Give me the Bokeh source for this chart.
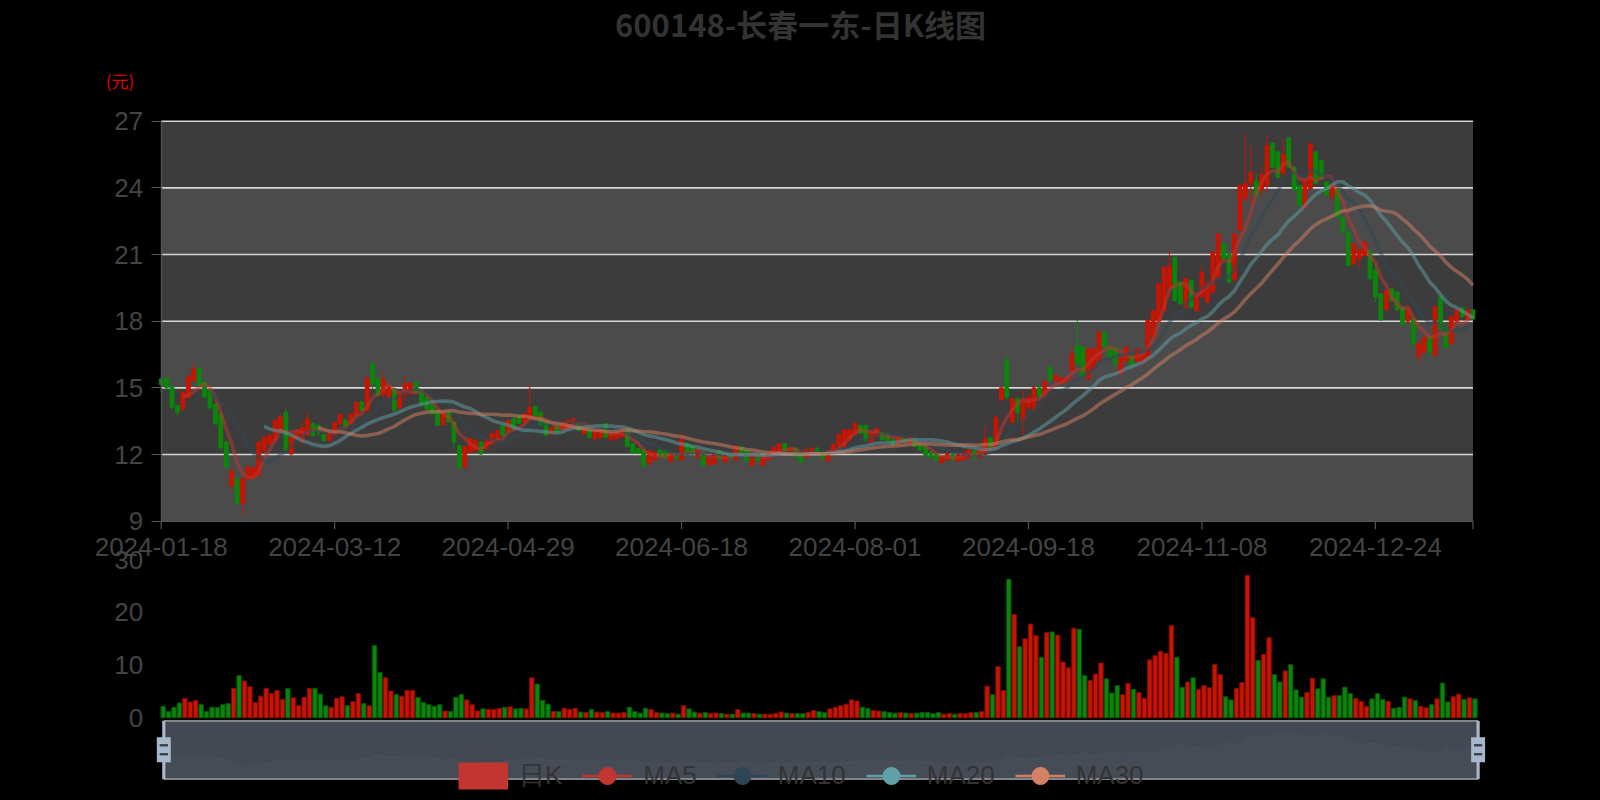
import numpy as np
import pandas as pd
from bokeh.plotting import figure
from bokeh.models import (Range1d, FixedTicker, Legend, LegendItem, LinearAxis,
                          GlobalInlineStyleSheet)
from bokeh.embed import file_html
from bokeh.resources import INLINE
from bokeh.core.properties import value

# ---------------- data ----------------
title_text = "600148-长春一东-日K线图"
unit_text = "(元)"
tick_index = [0, 32, 64, 96, 128, 160, 192, 224]
tick_labels = ["2024-01-18", "2024-03-12", "2024-04-29", "2024-06-18",
               "2024-08-01", "2024-09-18", "2024-11-08", "2024-12-24"]
price_ticks = [9, 12, 15, 18, 21, 24, 27]
volume_ticks = [0, 10, 20, 30]
legend_names = ["日K", "MA5", "MA10", "MA20", "MA30"]
ma_days = [5, 10, 20, 30]

opens = [15.40,15.44,15.06,14.20,14.06,14.58,15.33,15.88,15.25,14.88,
         14.28,13.83,12.56,10.60,10.90,9.80,10.90,10.95,11.06,12.18,
         12.48,12.63,13.05,13.90,12.03,12.71,12.60,12.90,13.38,13.30,
         12.89,12.63,12.89,13.38,13.55,13.41,13.76,14.36,13.98,16.10,
         15.41,14.70,14.58,14.96,14.10,14.70,14.76,15.26,14.91,14.58,
         14.25,13.98,13.35,13.90,13.46,12.41,11.43,12.11,12.18,12.56,
         12.26,12.48,12.71,13.31,13.08,13.61,13.76,13.46,13.68,14.16,
         13.90,13.46,12.93,13.31,13.16,13.16,13.46,13.41,12.93,13.16,
         12.71,12.75,13.38,12.66,12.71,12.81,13.11,12.48,12.26,12.21,
         11.58,11.76,12.21,12.15,11.69,12.00,11.76,12.51,12.41,11.88,
         12.11,11.55,11.58,12.18,11.66,12.06,11.76,12.33,12.21,11.51,
         12.06,11.51,11.76,12.06,12.06,12.48,12.06,12.29,12.00,11.88,
         12.06,12.29,12.11,11.70,12.15,12.41,12.33,12.66,12.90,13.31,
         13.31,12.56,12.81,13.00,12.90,12.66,12.45,12.75,12.51,12.75,
         12.48,12.41,12.11,12.03,11.65,11.76,12.00,11.70,11.76,11.85,
         12.18,11.88,12.00,12.75,12.29,14.46,16.23,13.46,14.50,13.50,
         14.13,14.00,15.00,14.60,15.93,15.33,15.20,15.30,15.78,16.90,
         16.86,15.41,15.86,16.23,17.51,16.83,16.80,15.63,16.20,16.46,
         16.20,16.20,16.35,17.28,18.00,18.48,19.50,20.88,19.76,18.63,
         19.83,18.48,19.10,18.86,19.31,19.98,21.48,21.03,19.86,22.08,
         23.50,24.20,24.30,23.90,24.11,26.01,25.61,24.63,26.25,24.93,
         24.11,23.10,23.96,25.61,25.23,24.26,23.60,23.96,22.68,22.01,
         20.58,20.80,20.96,21.18,20.30,19.23,18.51,19.46,19.31,18.63,
         18.00,18.10,16.40,16.61,17.31,16.46,19.08,17.70,17.00,18.00,
         18.60,18.10,18.50]

closes = [15.15,15.00,14.13,13.90,14.80,15.50,15.85,15.10,14.58,14.10,
          13.38,12.33,11.43,11.25,9.80,10.90,11.45,11.40,12.56,12.78,
          12.86,13.53,13.71,12.20,12.78,13.08,13.20,13.60,12.86,13.00,
          12.63,12.96,13.43,13.80,13.25,13.83,14.36,13.98,15.45,15.20,
          14.66,15.40,15.06,13.98,14.76,15.20,15.20,14.81,14.28,14.01,
          13.83,13.31,13.86,13.46,12.56,11.40,12.36,12.71,12.63,12.03,
          12.63,12.93,13.08,12.86,13.53,13.16,13.41,13.83,14.13,13.68,
          13.31,12.86,13.20,13.01,13.46,13.53,13.61,13.08,13.20,12.78,
          13.05,13.08,12.78,12.93,12.96,13.11,12.36,12.06,12.06,11.50,
          12.18,12.11,11.91,11.85,12.03,11.81,12.66,12.00,12.03,12.21,
          11.51,11.91,12.06,11.81,12.00,11.85,12.36,12.06,11.70,12.00,
          11.73,11.91,12.06,12.33,12.48,12.15,12.29,11.91,11.66,12.21,
          12.29,12.06,11.81,12.18,12.45,12.90,13.11,13.11,13.41,12.96,
          12.63,13.00,13.16,12.66,12.63,12.45,12.78,12.56,12.78,12.36,
          12.21,11.96,11.88,11.73,11.88,12.03,11.76,12.00,12.06,12.21,
          11.81,12.21,12.71,12.30,13.68,15.00,14.58,14.51,13.90,14.40,
          14.58,15.00,14.60,15.30,15.33,15.56,15.45,15.45,16.53,16.10,
          15.56,16.76,16.76,17.51,16.83,16.38,16.10,16.38,16.83,16.01,
          16.76,16.50,18.03,18.48,19.68,20.43,20.50,18.93,18.78,19.91,
          18.63,19.31,20.20,19.71,21.11,21.93,20.81,19.76,21.93,24.11,
          24.20,24.70,23.66,24.60,25.91,24.93,24.48,25.50,24.93,23.91,
          23.21,24.33,25.98,24.21,24.41,23.66,24.10,22.68,22.01,20.51,
          21.48,21.20,21.56,19.91,19.10,18.06,19.38,18.93,18.51,17.85,
          18.50,17.00,17.00,17.28,16.61,18.66,17.66,16.80,18.20,18.50,
          18.20,18.50,18.10]

highs = [15.45,15.50,15.10,14.25,14.85,15.55,16.11,15.95,15.30,14.95,
         14.30,13.90,12.60,11.40,11.00,10.95,11.50,11.45,12.60,12.85,
         12.95,13.60,13.80,14.06,12.85,13.15,13.53,13.91,13.45,13.38,
         12.95,13.00,13.48,13.85,13.61,13.88,14.40,14.42,15.50,16.16,
         15.45,15.70,15.10,15.00,14.80,15.55,15.25,15.30,14.95,14.62,
         14.30,14.02,13.90,13.95,13.50,12.45,12.40,12.75,12.68,12.60,
         12.68,12.98,13.12,13.35,13.58,13.65,13.80,13.88,15.11,14.20,
         13.95,13.50,13.25,13.35,13.50,13.58,13.66,13.45,13.25,13.20,
         13.10,13.12,13.42,12.97,13.00,13.15,13.15,12.52,12.30,12.25,
         12.22,12.15,12.25,12.19,12.07,12.04,13.00,12.55,12.45,12.25,
         12.15,11.95,12.10,12.22,12.04,12.10,12.40,12.37,12.25,12.04,
         12.10,11.95,12.10,12.37,12.52,12.52,12.33,12.33,12.04,12.25,
         12.33,12.33,12.15,12.22,12.49,12.95,13.15,13.15,13.45,13.35,
         13.35,13.04,13.20,13.04,12.94,12.70,12.82,12.79,12.82,12.79,
         12.52,12.45,12.15,12.07,11.92,12.07,12.04,12.04,12.10,12.25,
         12.22,12.25,13.31,12.80,13.72,15.06,16.50,14.55,14.61,14.88,
         14.70,15.06,15.20,15.40,16.00,15.60,15.50,15.50,16.86,18.06,
         16.90,16.80,16.80,17.55,17.55,16.88,16.83,16.42,16.88,16.50,
         16.80,16.68,18.08,18.52,19.72,20.47,21.21,20.92,19.80,19.95,
         19.87,19.35,20.51,19.75,21.15,21.97,21.52,21.07,21.97,24.15,
         26.46,25.91,24.63,24.96,26.36,26.05,25.65,26.21,26.29,24.97,
         24.15,24.37,26.02,25.65,25.27,24.30,24.18,24.00,22.72,22.05,
         21.52,21.33,21.60,21.22,20.58,19.27,19.42,19.50,19.35,18.67,
         18.78,18.18,17.13,17.32,17.35,18.70,19.12,17.74,18.25,18.55,
         18.65,18.55,18.55]

lows = [14.80,14.95,14.05,13.75,13.95,14.50,15.25,15.05,14.55,14.05,
        13.35,12.20,11.30,10.30,9.75,9.26,10.85,10.90,11.00,12.10,
        12.40,12.55,13.00,12.10,11.95,12.65,12.48,12.78,12.80,12.78,
        12.58,12.58,12.85,13.33,13.20,13.36,13.70,13.93,13.92,14.90,
        14.60,14.51,14.50,13.95,14.05,14.43,14.70,14.76,14.25,13.98,
        13.80,13.28,13.30,13.42,12.26,11.35,11.38,12.05,12.12,11.98,
        12.20,12.42,12.65,12.82,13.02,13.12,13.37,13.40,13.62,13.63,
        13.27,12.82,12.88,12.97,13.10,13.10,13.42,13.03,12.88,12.74,
        12.66,12.70,12.74,12.62,12.66,12.76,12.32,12.02,12.02,11.36,
        11.53,11.72,11.87,11.81,11.65,11.77,11.72,11.96,11.99,11.84,
        11.47,11.51,11.54,11.77,11.62,11.81,11.72,12.02,11.66,11.47,
        11.69,11.47,11.72,12.02,12.02,12.11,12.02,11.87,11.62,11.84,
        12.02,12.02,11.77,11.66,12.11,12.37,12.29,12.62,12.86,12.92,
        12.59,12.52,12.77,12.62,12.59,12.41,12.41,12.52,12.47,12.32,
        12.17,11.92,11.84,11.69,11.55,11.72,11.72,11.66,11.72,11.81,
        11.77,11.84,11.96,12.26,12.25,14.40,14.46,13.40,13.46,12.86,
        14.00,13.98,14.50,14.55,15.30,15.28,15.15,15.25,15.33,16.00,
        15.50,15.36,15.80,16.18,16.78,16.33,15.86,15.58,16.15,15.96,
        16.15,16.01,16.30,17.23,17.95,18.43,19.08,18.88,18.73,18.58,
        18.58,18.43,19.08,18.81,19.26,19.93,20.76,19.71,19.81,22.03,
        23.43,23.28,23.62,23.66,23.81,24.88,24.43,24.60,24.88,23.86,
        23.16,23.05,23.91,24.16,24.36,23.61,23.28,22.63,21.96,20.46,
        20.53,20.36,20.91,19.86,18.86,18.01,18.46,18.88,18.46,17.80,
        17.85,16.80,16.11,16.56,16.35,16.41,17.61,16.75,16.95,17.95,
        18.15,18.05,18.05]

volumes = [2.2,1.2,2.0,2.8,3.7,3.0,3.3,2.5,1.2,2.0,
           2.0,2.5,2.7,5.6,8.0,7.0,5.9,2.9,4.1,5.6,
           4.6,5.2,3.5,5.6,3.8,2.3,3.9,5.6,5.6,4.5,
           2.3,2.0,3.7,4.0,2.3,3.1,4.6,2.7,2.3,13.7,
           8.6,7.6,5.1,4.4,4.1,5.2,5.2,3.9,2.9,2.5,
           2.2,2.5,1.3,1.2,3.9,4.4,3.4,2.5,1.3,1.7,
           1.6,1.6,1.8,2.0,2.1,1.7,1.8,1.7,7.6,6.4,
           3.3,2.6,1.2,1.2,1.8,1.6,1.8,1.1,1.0,1.6,
           1.1,1.0,1.2,0.9,0.9,1.0,2.0,1.2,0.9,1.8,
           1.6,1.0,0.9,0.8,0.9,0.7,2.3,1.7,1.1,0.9,
           1.0,0.8,0.9,0.8,0.7,0.7,1.6,0.9,0.9,0.8,
           0.7,0.7,0.7,0.8,1.1,0.9,0.8,0.8,0.8,1.0,
           1.4,1.2,1.0,1.7,2.0,2.3,2.6,3.4,3.2,2.0,
           1.8,1.4,1.3,1.2,1.0,0.9,1.0,0.9,0.8,0.9,
           1.0,1.0,0.8,1.0,0.7,0.8,0.7,0.8,0.8,1.0,
           1.0,1.2,6.0,4.4,9.7,5.2,26.3,19.6,13.5,15.0,
           17.8,15.6,11.5,16.2,16.3,15.7,10.6,9.5,17.0,16.8,
           8.0,7.1,8.3,10.4,7.4,4.7,6.1,4.4,6.5,5.4,
           4.8,3.7,11.0,11.8,12.6,12.2,17.5,11.5,5.8,6.8,
           7.6,5.4,6.1,5.7,10.1,8.2,4.0,3.4,5.6,6.7,
           27.0,19.0,10.9,12.0,15.2,8.2,6.8,8.9,10.1,5.3,
           3.9,4.8,7.5,5.5,7.4,3.9,4.2,4.2,5.8,4.6,
           3.7,3.1,2.2,3.6,4.6,3.5,3.1,1.8,2.0,3.9,
           3.6,3.3,2.2,1.9,2.5,3.6,6.6,3.0,4.0,4.5,
           3.5,3.8,3.6]

# ---------------- styling constants ----------------
UP, DOWN = "#c81400", "#0a870a"
UP_EDGE, DOWN_EDGE = "#7a0c00", "#055205"
MA_COLORS = ["#c23531", "#2f4554", "#61a0a8", "#d48265"]
BAND_LIGHT, BAND_DARK = "#4b4b4b", "#3c3c3c"
TXT = "#444444"
AXIS = "#555555"
FONT = "Liberation Sans"
CJK = "Noto Sans CJK SC"

N = len(closes)
idx = np.arange(N)
o = np.array(opens); c = np.array(closes)
hi = np.array(highs); lo = np.array(lows)
rising = c >= o
col = np.where(rising, UP, DOWN)
edge = np.where(rising, UP_EDGE, DOWN_EDGE)

# ---------------- page geometry (pixels) ----------------
W, H = 1600, 800
FRAME_L = 94                       # left border holds the two axis panels
X0_PX, XN_PX = 160.7, 1472.5       # first / last trading day
Y27, Y9 = 120.7, 520.7             # price grid top / bottom
VOL0, VOL30 = 717.3, 559.2         # volume axis 0 / 30
BAR_SHIFT = 2.0
KX = (XN_PX - X0_PX) / (N - 1)
KY = (Y9 - Y27) / (27 - 9)
KV = (VOL0 - VOL30) / 30.0
SL_L, SL_R, SL_T, SL_B = 163.3, 1477.6, 720.4, 778.6   # zoom slider box

x_rng = Range1d(-(X0_PX - FRAME_L) / KX, (W - X0_PX) / KX)
y_rng = Range1d(9 - (H - Y9) / KY, 27 + Y27 / KY)

F = figure(width=W, height=H, x_range=x_rng, y_range=y_rng,
           x_axis_location=None,
           output_backend="svg", toolbar_location=None,
           min_border_left=FRAME_L, min_border_right=0,
           min_border_top=0, min_border_bottom=0,
           background_fill_color="black", border_fill_color="black",
           outline_line_color=None)
F.grid.visible = False

F.extra_x_ranges = {
    "px": Range1d(FRAME_L, W),
    "vx": Range1d(-(X0_PX + BAR_SHIFT - FRAME_L) / KX, (W - X0_PX - BAR_SHIFT) / KX),
}
F.extra_y_ranges = {
    "py": Range1d(H, 0),
    "vol": Range1d(-(H - VOL0) / KV, 30 + VOL30 / KV),
}
ks = (SL_R - SL_L) / (N - 1)
dmin, dmax = min(opens), max(opens)
mrg = 0.3 * (dmax - dmin)
lo_v, hi_v = dmin - mrg, dmax + mrg
us = (SL_B - SL_T) / (hi_v - lo_v)
F.extra_x_ranges["shx"] = Range1d(-(SL_L - FRAME_L) / ks, (N - 1) + (W - SL_R) / ks)
F.extra_y_ranges["shy"] = Range1d(lo_v - (H - SL_B) / us, hi_v + SL_T / us)

# ---------------- texts ----------------
F.text(x=[800], y=[22.5], text=[title_text], text_font=value(CJK),
       text_font_style="bold", text_font_size="31px", text_color="#333333",
       text_align="center", text_baseline="middle",
       x_range_name="px", y_range_name="py")
F.text(x=[119.5], y=[80], text=[unit_text], text_font=value(CJK),
       text_font_size="17px", text_color="#e00000",
       text_align="center", text_baseline="middle",
       x_range_name="px", y_range_name="py")
F.text(x=tick_index, y=[546] * len(tick_index), text=tick_labels,
       text_font=value(FONT), text_font_size="26px", text_color=TXT,
       text_align="center", text_baseline="middle", y_range_name="py")

# ---------------- price panel ----------------
band_lo = price_ticks[:-1]
band_hi = price_ticks[1:]
band_col = [BAND_LIGHT if k % 2 == 0 else BAND_DARK for k in range(len(band_lo))]
F.quad(left=0, right=N - 1, bottom=band_lo, top=band_hi, fill_color=band_col,
       line_color=None, level="image")
gl = price_ticks[1:]
F.segment(x0=[0] * len(gl), y0=gl, x1=[N - 1] * len(gl), y1=gl,
          line_color="#d6d6d6", line_width=1.6)
# category axis line + ticks under the price grid
F.segment(x0=[0], y0=[9], x1=[N - 1], y1=[9], line_color=AXIS, line_width=1.4)
xt = tick_index + [N - 1]
F.segment(x0=xt, y0=[9] * len(xt), x1=xt, y1=[9 - 8 / KY] * len(xt),
          line_color=AXIS, line_width=1.2)

ya = F.yaxis[0]
ya.fixed_location = 0
ya.ticker = FixedTicker(ticks=price_ticks)
ya.bounds = (9, 27)
ya.axis_line_color = AXIS
ya.axis_line_width = 1.4
ya.major_tick_line_color = AXIS
ya.major_tick_out = 10
ya.major_tick_in = 0
ya.minor_tick_line_color = None
ya.major_label_standoff = 8
ya.major_label_text_font = FONT
ya.major_label_text_font_size = "26px"
ya.major_label_text_color = TXT

# candles
F.segment(x0=idx, y0=hi, x1=idx, y1=lo, line_color=col, line_width=1)
F.vbar(x=idx, width=0.7, top=np.maximum(o, c), bottom=np.minimum(o, c),
       fill_color=col, line_color=col, line_width=1)

# moving averages
cs = pd.Series(closes)
for d, mc in zip(ma_days, MA_COLORS):
    ma = cs.rolling(d).mean().to_numpy()
    F.line(idx, ma, line_color=mc, line_width=3.6, line_alpha=0.5)

# ---------------- volume panel ----------------
vax = LinearAxis(y_range_name="vol", fixed_location=0,
                 ticker=FixedTicker(ticks=volume_ticks), bounds=(0, 30),
                 axis_line_color=None, major_tick_line_color=None,
                 minor_tick_line_color=None, major_tick_out=0, major_tick_in=0,
                 major_label_standoff=18, major_label_text_font=FONT,
                 major_label_text_font_size="26px", major_label_text_color=TXT)
F.add_layout(vax, "left")

F.vbar(x=idx, width=0.82, top=volumes, bottom=0, fill_color=col,
       line_color=edge, line_width=1, x_range_name="vx", y_range_name="vol")

# ---------------- zoom slider ----------------
F.varea(x=idx, y1=lo_v, y2=opens, fill_color="#2f4554", fill_alpha=0.09,
        x_range_name="shx", y_range_name="shy")
F.line(idx, opens, line_color="#2f4554", line_width=0.5, line_alpha=0.3,
       x_range_name="shx", y_range_name="shy")

# legend (drawn beneath the slider filler)
leg_items = []
rk = F.line([np.nan], [np.nan], line_color="#c23531", line_width=27)
leg_items.append(LegendItem(label=legend_names[0], renderers=[rk]))
for name, mc in zip(legend_names[1:], MA_COLORS):
    rl = F.line([np.nan], [np.nan], line_color=mc, line_width=2.5)
    rs = F.scatter([np.nan], [np.nan], marker="circle", fill_color=mc,
                   line_color=mc)
    leg_items.append(LegendItem(label=name, renderers=[rl, rs]))
legend = Legend(items=leg_items, orientation="horizontal",
                location=(458 - FRAME_L, 3), glyph_width=50, glyph_height=43,
                label_standoff=11, spacing=20, padding=0, margin=0,
                background_fill_alpha=0, border_line_color=None,
                label_text_font=FONT, label_text_font_size="26px",
                label_text_color="#333333", label_height=30, label_width=10)
F.add_layout(legend)

F.quad(left=[SL_L], right=[SL_R], bottom=[SL_B], top=[SL_T],
       fill_color="#a7b7cc", fill_alpha=0.4, line_color="#dddddd", line_width=1,
       x_range_name="px", y_range_name="py", level="overlay")
HS = (SL_B - SL_T) / 34.6
for cx in (SL_L, SL_R):
    F.quad(left=[cx - 0.95 * HS], right=[cx + 0.95 * HS], bottom=[SL_B], top=[SL_T],
           fill_color="#a7b7cc", line_color=None,
           x_range_name="px", y_range_name="py", level="overlay")
    F.quad(left=[cx - 4.15 * HS], right=[cx + 4.15 * HS],
           bottom=[SL_T + 24.6 * HS], top=[SL_T + 9.7 * HS],
           fill_color="#a7b7cc", line_color=None,
           x_range_name="px", y_range_name="py", level="overlay")
    for y0 in (13.8, 19.1):
        F.quad(left=[cx - 2.45 * HS], right=[cx + 2.45 * HS],
               bottom=[SL_T + (y0 + 1.4) * HS], top=[SL_T + y0 * HS],
               fill_color="#3a3f47", line_color=None,
               x_range_name="px", y_range_name="py", level="overlay")

F.stylesheets = [GlobalInlineStyleSheet(css="html, body { background-color: #000000; }")]

open("out.html", "w").write(file_html(F, INLINE, title=title_text))
